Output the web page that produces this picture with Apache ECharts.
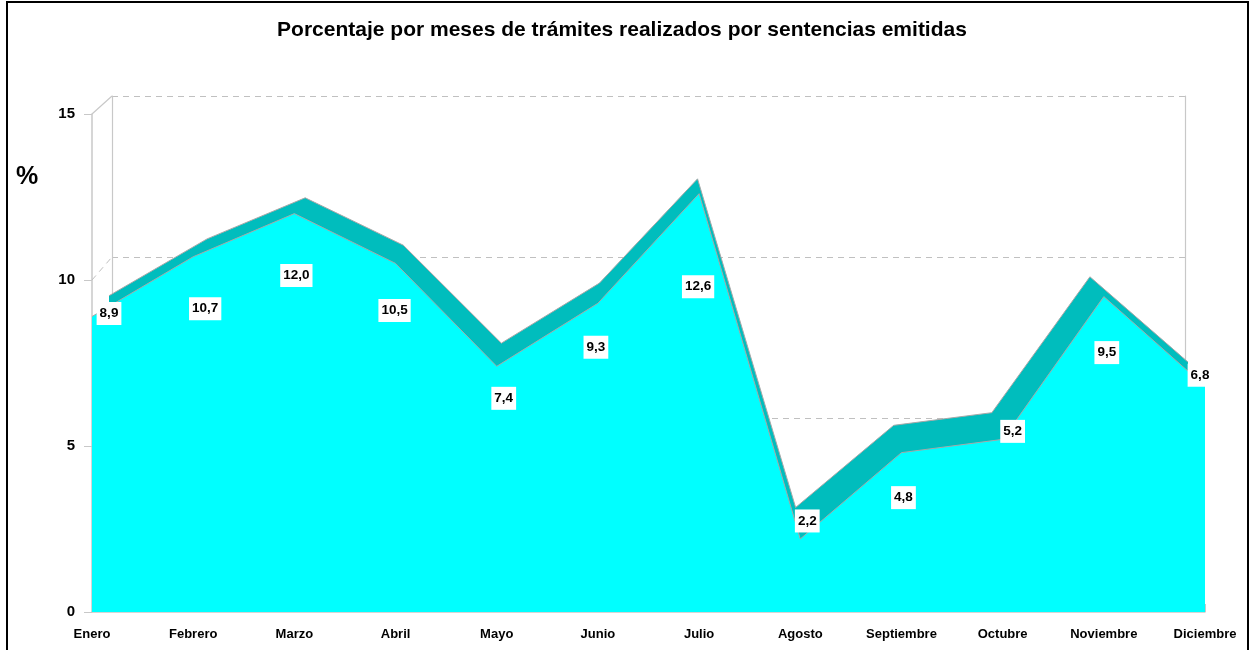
<!DOCTYPE html>
<html>
<head>
<meta charset="utf-8">
<script src="https://cdn.jsdelivr.net/npm/echarts@6/dist/echarts.min.js"></script>
<style>html,body{margin:0;padding:0;background:#fff;}#c{width:1250px;height:650px;}</style>
</head>
<body>
<div id="c"></div>
<script>
const categories = ['Enero','Febrero','Marzo','Abril','Mayo','Junio','Julio','Agosto','Septiembre','Octubre','Noviembre','Diciembre'];
const values = [8.9, 10.7, 12.0, 10.5, 7.4, 9.3, 12.6, 2.2, 4.8, 5.2, 9.5, 6.8];
const yTicks = [0, 5, 10, 15];
const labelOffsets = [[17,-3],[12,52],[2,62],[-1,47],[7,32],[-2,44],[-1,93],[7,-18],[2,45],[10,-8],[3,56],[-5,-11]];

const FONT = 'Liberation Sans, Arial, sans-serif';
const fmt = v => v.toFixed(1).replace('.', ',');
const yMin = yTicks[0], yMax = yTicks[yTicks.length - 1], yStep = yTicks[1] - yTicks[0];

const chart = echarts.init(document.getElementById('c'));
const option = {
  animation: false,
  backgroundColor: '#fff',
  title: [
    { text: 'Porcentaje por meses de trámites realizados por sentencias emitidas', left: 617, top: 15, textAlign: 'center',
      textStyle: { fontFamily: FONT, fontWeight: 'bold', fontSize: 21, color: '#000' } },
    { text: '%', left: 11, top: 160, textStyle: { fontFamily: FONT, fontWeight: 'bold', fontSize: 25, color: '#000' } }
  ],
  grid: [
    { left: 92, right: 45, top: 114, bottom: 38 },
    { left: 109, right: 62, top: 103, bottom: 73 },
    { left: 112, right: 65, top: 96, bottom: 71 }
  ],
  xAxis: [
    { type: 'category', gridIndex: 0, data: categories, boundaryGap: false, offset: 7,
      axisLine: { lineStyle: { color: '#c8c8c8', width: 1.5 } },
      axisTick: { inside: true, length: 8, lineStyle: { color: '#c8c8c8' } },
      axisLabel: { margin: 9, fontFamily: FONT, fontWeight: 'bold', fontSize: 13, color: '#000', interval: 0 } },
    { type: 'category', gridIndex: 1, data: categories, boundaryGap: false, show: false },
    { type: 'value', gridIndex: 2, min: 0, max: 1, show: false }
  ],
  yAxis: [
    { type: 'value', gridIndex: 0, min: yMin, max: yMax, interval: yStep,
      axisLine: { show: true, lineStyle: { color: '#c8c8c8', width: 1.5 } },
      axisTick: { show: true, length: 8, lineStyle: { color: '#c8c8c8' } },
      splitLine: { show: false },
      axisLabel: { margin: 17, fontFamily: FONT, fontWeight: 'bold', fontSize: 15, color: '#000' } },
    { type: 'value', gridIndex: 1, min: yMin, max: yMax, interval: yStep, show: false },
    { type: 'value', gridIndex: 2, min: yMin, max: yMax, interval: yStep,
      axisLine: { show: true, lineStyle: { color: '#c8c8c8', width: 1.2 } },
      axisTick: { show: false }, axisLabel: { show: false },
      splitLine: { show: true, lineStyle: { color: '#c0c0c0', type: [6, 5], width: 1 } } },
    { type: 'value', gridIndex: 2, position: 'right', min: yMin, max: yMax, interval: yStep,
      axisLine: { show: true, lineStyle: { color: '#c8c8c8', width: 1.2 } },
      axisTick: { show: false }, axisLabel: { show: false }, splitLine: { show: false } }
  ],
  series: [
    { type: 'line', name: 'back', xAxisIndex: 1, yAxisIndex: 1, data: values, symbol: 'none',
      lineStyle: { color: '#a8a8a8', width: 1 }, areaStyle: { color: '#00BDBD', opacity: 1 }, z: 2 },
    { type: 'line', name: 'front', xAxisIndex: 0, yAxisIndex: 0, symbol: 'circle', symbolSize: 1,
      itemStyle: { color: 'rgba(0,0,0,0)' },
      lineStyle: { color: '#a8a8a8', width: 1 }, areaStyle: { color: '#00FFFF', opacity: 1 }, z: 3,
      data: values.map((v, i) => ({ value: v, label: { offset: labelOffsets[i] } })),
      label: { show: true, position: 'inside', formatter: p => fmt(p.value), fontFamily: FONT, fontWeight: 'bold',
        fontSize: 13.5, color: '#000', backgroundColor: '#fff', padding: [5, 3, 4, 3] } }
  ]
};
chart.setOption(option);

// 3D box decorations derived from the axes' own scales
const front = (x, y) => chart.convertToPixel({ xAxisIndex: 0, yAxisIndex: 0 }, [x, y]);
const wall = (x, y) => chart.convertToPixel({ xAxisIndex: 2, yAxisIndex: 2 }, [x, y]);
const f15 = front(0, yMax), w15 = wall(0, yMax);
const f10 = front(0, yTicks[2]), w10 = wall(0, yTicks[2]);
chart.setOption({
  graphic: [
    { type: 'line', shape: { x1: f15[0], y1: f15[1], x2: w15[0], y2: w15[1] }, style: { stroke: '#c8c8c8', lineWidth: 1.2 }, z: 1 },
    { type: 'line', shape: { x1: f10[0], y1: f10[1], x2: w10[0], y2: w10[1] }, style: { stroke: '#c0c0c0', lineWidth: 1, lineDash: [6, 5] }, z: 1 },
    { type: 'rect', shape: { x: 7, y: 2, width: 1241, height: 660 }, style: { fill: 'none', stroke: '#000', lineWidth: 2 }, z: 10 }
  ]
});
</script>
</body>
</html>
